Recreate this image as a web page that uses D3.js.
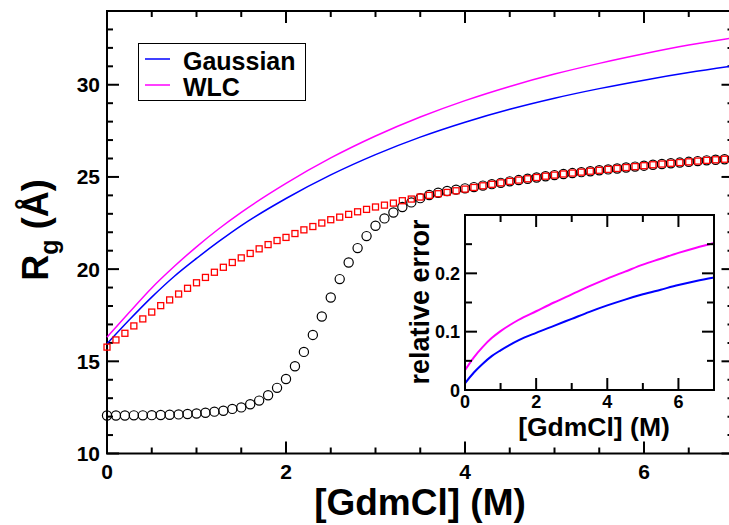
<!DOCTYPE html>
<html>
<head>
<meta charset="utf-8">
<title>Rg vs GdmCl</title>
<script src="https://cdnjs.cloudflare.com/ajax/libs/d3/7.8.5/d3.min.js"></script>
<style>
  body { margin: 0; background: white; }
  text { font-family: "Liberation Sans", Arial, sans-serif; font-weight: bold; }
</style>
</head>
<body>
<div id="chart"></div>
<script>
// denaturant concentration grid of the simulation points (M)
const conc = [0.0,0.1,0.2,0.3,0.4,0.5,0.6,0.7,0.8,0.9,1.0,1.1,1.2,1.3,1.4,1.5,1.6,1.7,1.8,1.9,
  2.0,2.1,2.2,2.3,2.4,2.5,2.6,2.7,2.8,2.9,3.0,3.1,3.2,3.3,3.4,3.5,3.6,3.7,3.8,3.9,
  4.0,4.1,4.2,4.3,4.4,4.5,4.6,4.7,4.8,4.9,5.0,5.1,5.2,5.3,5.4,5.5,5.6,5.7,5.8,5.9,
  6.0,6.1,6.2,6.3,6.4,6.5,6.6,6.7,6.8,6.9,7.0];

// black circles
const rgCircles = [12.06,12.06,12.06,12.07,12.07,12.08,12.09,12.10,12.12,12.14,
  12.17,12.21,12.27,12.32,12.42,12.50,12.67,12.87,13.16,13.56,
  14.04,14.73,15.51,16.43,17.43,18.46,19.46,20.36,21.14,21.79,
  22.35,22.75,23.07,23.37,23.62,23.85,24.02,24.14,24.24,24.31,
  24.38,24.45,24.53,24.61,24.68,24.76,24.83,24.90,24.97,25.04,
  25.10,25.16,25.21,25.26,25.31,25.36,25.41,25.46,25.51,25.56,
  25.61,25.66,25.70,25.74,25.78,25.82,25.86,25.90,25.93,25.96,26.00];

// red squares
const rgSquares = [15.77,16.16,16.52,16.92,17.30,17.67,18.02,18.33,18.65,18.96,
  19.26,19.55,19.83,20.10,20.36,20.61,20.85,21.10,21.33,21.55,
  21.72,21.93,22.13,22.31,22.50,22.68,22.82,22.97,23.11,23.24,
  23.37,23.47,23.58,23.71,23.80,23.91,24.00,24.09,24.16,24.25,
  24.34,24.43,24.52,24.60,24.68,24.76,24.83,24.90,24.97,25.04,
  25.10,25.16,25.21,25.26,25.31,25.36,25.41,25.46,25.51,25.56,
  25.61,25.66,25.70,25.74,25.78,25.82,25.86,25.90,25.93,25.96,26.00];

// model curves
const lineConc = [0,0.25,0.5,0.75,1,1.25,1.5,2,2.5,3,3.5,4,4.5,5,5.5,6,6.5,7];
const rgGaussian = [15.95,17.25,18.48,19.60,20.58,21.50,22.36,23.83,25.11,26.21,27.16,27.97,28.67,29.27,29.79,30.25,30.66,31.02];
const rgWLC = [16.31,17.66,18.98,20.14,21.21,22.19,23.08,24.65,26.03,27.22,28.25,29.14,29.91,30.58,31.16,31.68,32.15,32.55];
const errGaussian = [0.0115,0.030,0.045,0.058,0.068,0.077,0.085,0.098,0.110,0.122,0.134,0.145,0.155,0.164,0.172,0.180,0.187,0.193];
const errWLC = [0.034,0.056,0.074,0.089,0.101,0.111,0.120,0.135,0.150,0.164,0.178,0.191,0.203,0.215,0.225,0.235,0.244,0.252];

const legendNames = ["Gaussian", "WLC"];
const legendColors = ["#0000ff", "#ff00ff"];

const xTicks = [0, 2, 4, 6];
const yTicks = [10, 15, 20, 25, 30];
const insetYTicks = [0, 0.1, 0.2];

const width = 729, height = 525;
const svg = d3.select("#chart").append("svg")
  .attr("width", width).attr("height", height);

const x = d3.scaleLinear().domain([0, 7]).range([107, 733.5]);
const y = d3.scaleLinear().domain([10, 34]).range([453.5, 11]);

// ticks on all four sides, pointing inward
function frameTicks(g, xs, ys, xMajor, yMajor, xMinor, yMinor, majLen, minLen) {
  const [x0, x1] = xs.range(), [y0, y1] = ys.range();
  xMinor.forEach(v => {
    const len = xMajor.includes(v) ? majLen : minLen;
    g.append("line").attr("x1", xs(v)).attr("x2", xs(v)).attr("y1", y0).attr("y2", y0 - len);
    g.append("line").attr("x1", xs(v)).attr("x2", xs(v)).attr("y1", y1).attr("y2", y1 + len);
  });
  yMinor.forEach(v => {
    const len = yMajor.includes(v) ? majLen : minLen;
    g.append("line").attr("y1", ys(v)).attr("y2", ys(v)).attr("x1", x0).attr("x2", x0 + len);
    g.append("line").attr("y1", ys(v)).attr("y2", ys(v)).attr("x1", x1).attr("x2", x1 - len);
  });
  g.append("rect").attr("x", x0).attr("y", y1).attr("width", x1 - x0).attr("height", y0 - y1)
    .attr("fill", "none");
  g.attr("stroke", "#000").attr("stroke-width", 2);
}

const mainFrame = svg.append("g");
frameTicks(mainFrame, x, y, xTicks, yTicks,
  d3.range(0, 7.01, 0.5), d3.range(10, 34.01, 1), 12, 6);

svg.append("g").selectAll("text").data(xTicks).join("text")
  .attr("x", d => x(d)).attr("y", 479).attr("text-anchor", "middle")
  .attr("font-size", 21).text(d => d);
svg.append("g").selectAll("text").data(yTicks).join("text")
  .attr("x", 100).attr("y", d => y(d) + 7.5).attr("text-anchor", "end")
  .attr("font-size", 21).text(d => d);

// curves
const line = d3.line().curve(d3.curveMonotoneX);
[rgGaussian, rgWLC].forEach((vals, i) => {
  svg.append("path")
    .attr("d", line(lineConc.map((c, j) => [x(c), y(vals[j])])))
    .attr("fill", "none").attr("stroke", legendColors[i]).attr("stroke-width", 1.5);
});

// markers
svg.append("g").selectAll("circle").data(conc).join("circle")
  .attr("cx", d => x(d)).attr("cy", (d, i) => y(rgCircles[i])).attr("r", 4.6)
  .attr("fill", "none").attr("stroke", "#000").attr("stroke-width", 1.2);
svg.append("g").selectAll("rect").data(conc).join("rect")
  .attr("x", d => x(d) - 3).attr("y", (d, i) => y(rgSquares[i]) - 3)
  .attr("width", 6).attr("height", 6)
  .attr("fill", "none").attr("stroke", "#ff0000").attr("stroke-width", 1.3);

// axis titles
svg.append("text").attr("x", 420).attr("y", 515).attr("text-anchor", "middle")
  .attr("font-size", 37).text("[GdmCl] (M)");
const yt = svg.append("text").attr("transform", "translate(48,230) rotate(-90)")
  .attr("text-anchor", "middle").attr("font-size", 36);
yt.append("tspan").text("R");
yt.append("tspan").attr("dy", 10).attr("font-size", 25).text("g");
yt.append("tspan").attr("dy", -10).text(" (Å)");

// legend
const legend = svg.append("g");
legend.append("rect").attr("x", 138.5).attr("y", 43.5).attr("width", 167).attr("height", 57)
  .attr("fill", "white").attr("stroke", "#000").attr("stroke-width", 1);
legendNames.forEach((name, i) => {
  const ly = 59 + i * 26;
  legend.append("line").attr("x1", 145).attr("x2", 170).attr("y1", ly).attr("y2", ly)
    .attr("stroke", legendColors[i]).attr("stroke-width", 1.5);
  legend.append("text").attr("x", 183).attr("y", ly + 11).attr("font-size", 25).text(name);
});

// inset
const xi = d3.scaleLinear().domain([0, 7]).range([465, 714]);
const yi = d3.scaleLinear().domain([0, 0.3]).range([390, 215]);
svg.append("rect").attr("x", 465).attr("y", 215).attr("width", 249).attr("height", 175)
  .attr("fill", "white");
[errGaussian, errWLC].forEach((vals, i) => {
  svg.append("path")
    .attr("d", line(lineConc.map((c, j) => [xi(c), yi(vals[j])])))
    .attr("fill", "none").attr("stroke", legendColors[i]).attr("stroke-width", 2);
});
const insetFrame = svg.append("g");
frameTicks(insetFrame, xi, yi, xTicks, [0.1, 0.2],
  d3.range(0, 7.01, 1), [0.05, 0.1, 0.15, 0.2, 0.25], 12, 7);

svg.append("g").selectAll("text").data(xTicks).join("text")
  .attr("x", d => xi(d)).attr("y", 408).attr("text-anchor", "middle")
  .attr("font-size", 18).text(d => d);
svg.append("g").selectAll("text").data(insetYTicks).join("text")
  .attr("x", 460).attr("y", d => yi(d) + 6.5).attr("text-anchor", "end")
  .attr("font-size", 18).text(d => d);
svg.append("text").attr("x", 594).attr("y", 436).attr("text-anchor", "middle")
  .attr("font-size", 26.5).text("[GdmCl] (M)");
svg.append("text").attr("transform", "translate(429,302) rotate(-90)")
  .attr("text-anchor", "middle").attr("font-size", 27).text("relative error");
</script>
</body>
</html>
